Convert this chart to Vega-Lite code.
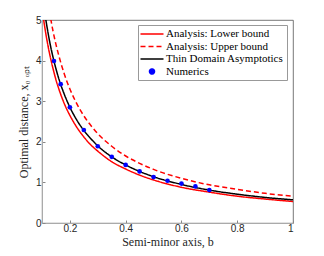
{
  "$schema": "https://vega.github.io/schema/vega-lite/v6.json",
  "autosize": {"type": "none"},
  "width": 251,
  "height": 203,
  "padding": {"left": 42, "top": 20, "right": 31, "bottom": 33},
  "background": "white",
  "config": {
    "view": {"stroke": "#555555", "strokeWidth": 0.8},
    "axis": {
      "grid": false,
      "domainColor": "#aaaaaa",
      "tickColor": "#888888",
      "tickSize": -3,
      "labelFont": "Liberation Sans",
      "labelFontSize": 10,
      "labelColor": "#262626",
      "titleFont": "Liberation Serif",
      "titleFontSize": 12,
      "titleFontWeight": "normal",
      "titleColor": "#262626"
    },
    "legend": {
      "labelFont": "Liberation Serif",
      "labelFontSize": 11,
      "labelColor": "#000000",
      "symbolSize": 100,
      "symbolOffset": 5,
      "symbolStrokeWidth": 1.5,
      "rowPadding": 1.5,
      "labelOffset": 8,
      "padding": 3
    }
  },
  "datasets": {
    "curves": [
      {"b": 0.1, "lower": 5.3, "upper": 6.6, "thin": 5.7},
      {"b": 0.11, "lower": 4.82, "upper": 6.0, "thin": 5.18},
      {"b": 0.12, "lower": 4.42, "upper": 5.5, "thin": 4.75},
      {"b": 0.13, "lower": 4.08, "upper": 5.08, "thin": 4.38},
      {"b": 0.14, "lower": 3.79, "upper": 4.71, "thin": 4.07},
      {"b": 0.15, "lower": 3.53, "upper": 4.4, "thin": 3.8},
      {"b": 0.16, "lower": 3.31, "upper": 4.13, "thin": 3.56},
      {"b": 0.18, "lower": 2.94, "upper": 3.67, "thin": 3.17},
      {"b": 0.2, "lower": 2.65, "upper": 3.3, "thin": 2.85},
      {"b": 0.22, "lower": 2.41, "upper": 3.0, "thin": 2.59},
      {"b": 0.25, "lower": 2.12, "upper": 2.64, "thin": 2.28},
      {"b": 0.28, "lower": 1.89, "upper": 2.36, "thin": 2.04},
      {"b": 0.3, "lower": 1.77, "upper": 2.2, "thin": 1.9},
      {"b": 0.35, "lower": 1.51, "upper": 1.89, "thin": 1.63},
      {"b": 0.4, "lower": 1.33, "upper": 1.65, "thin": 1.43},
      {"b": 0.45, "lower": 1.18, "upper": 1.47, "thin": 1.27},
      {"b": 0.5, "lower": 1.06, "upper": 1.32, "thin": 1.14},
      {"b": 0.6, "lower": 0.88, "upper": 1.1, "thin": 0.95},
      {"b": 0.7, "lower": 0.76, "upper": 0.94, "thin": 0.81},
      {"b": 0.8, "lower": 0.66, "upper": 0.83, "thin": 0.71},
      {"b": 0.9, "lower": 0.59, "upper": 0.73, "thin": 0.63},
      {"b": 1.0, "lower": 0.53, "upper": 0.66, "thin": 0.57}
    ],
    "numerics": [
      {"b": 0.143, "x0": 3.99},
      {"b": 0.167, "x0": 3.42},
      {"b": 0.2, "x0": 2.85},
      {"b": 0.25, "x0": 2.29},
      {"b": 0.3, "x0": 1.89},
      {"b": 0.35, "x0": 1.63},
      {"b": 0.4, "x0": 1.43},
      {"b": 0.45, "x0": 1.27},
      {"b": 0.5, "x0": 1.13},
      {"b": 0.55, "x0": 1.04},
      {"b": 0.6, "x0": 0.97},
      {"b": 0.65, "x0": 0.9},
      {"b": 0.7, "x0": 0.81}
    ]
  },
  "encoding": {
    "x": {
      "field": "b", "type": "quantitative",
      "scale": {"domain": [0.1, 1], "nice": false, "zero": false},
      "axis": {"values": [0.2, 0.4, 0.6, 0.8, 1], "format": "~g", "title": "Semi-minor axis, b", "labelPadding": 3, "titlePadding": 3}
    },
    "y": {
      "type": "quantitative",
      "scale": {"domain": [0, 5], "nice": false},
      "axis": {"values": [0, 1, 2, 3, 4, 5], "title": "Optimal distance, x₀ ₒₚₜ", "labelPadding": 4, "titlePadding": 5}
    }
  },
  "layer": [
    {
      "data": {"name": "curves"},
      "transform": [
        {"fold": ["lower", "upper", "thin"], "as": ["key", "val"]},
        {"lookup": "key", "from": {"data": {"values": [
          {"key": "lower", "series": "Analysis: Lower bound"},
          {"key": "upper", "series": "Analysis: Upper bound"},
          {"key": "thin", "series": "Thin Domain Asymptotics"}
        ]}, "key": "key", "fields": ["series"]}}
      ],
      "mark": {"type": "line", "clip": true, "strokeWidth": 1.5, "interpolate": "monotone"},
      "encoding": {
        "y": {"field": "val"},
        "color": {
          "field": "series", "type": "nominal",
          "scale": {
            "domain": ["Analysis: Lower bound", "Analysis: Upper bound", "Thin Domain Asymptotics", "Numerics"],
            "range": ["#ff0000", "#ff0000", "#000000", "#0000ff"]
          },
          "legend": {
            "title": null,
            "orient": "none",
            "legendX": 96,
            "legendY": 5,
            "fillColor": "white",
            "strokeColor": "#999999",
            "symbolType": "stroke",
            "encode": {
              "symbols": {
                "update": {
                  "shape": {"signal": "datum.value === 'Numerics' ? 'circle' : 'M-2.3,0H2.3'"},
                  "size": {"signal": "datum.value === 'Numerics' ? 25 : 100"},
                  "fill": {"signal": "datum.value === 'Numerics' ? '#0000ff' : 'transparent'"},
                  "strokeDash": {"signal": "datum.value === 'Analysis: Upper bound' ? [5, 3] : [1, 0]"}
                }
              },
              "labels": {
                "update": {
                  "font": {"value": "Liberation Serif"},
                  "fontSize": {"value": 11},
                  "fill": {"value": "#000000"}
                }
              }
            }
          }
        },
        "strokeDash": {
          "field": "series", "type": "nominal",
          "scale": {
            "domain": ["Analysis: Lower bound", "Analysis: Upper bound", "Thin Domain Asymptotics"],
            "range": [[1, 0], [5, 3], [1, 0]]
          },
          "legend": null
        }
      }
    },
    {
      "data": {"name": "numerics"},
      "transform": [{"calculate": "'Numerics'", "as": "series"}],
      "mark": {"type": "circle", "size": 22, "opacity": 1},
      "encoding": {
        "y": {"field": "x0"},
        "color": {"field": "series", "type": "nominal"}
      }
    }
  ]
}
